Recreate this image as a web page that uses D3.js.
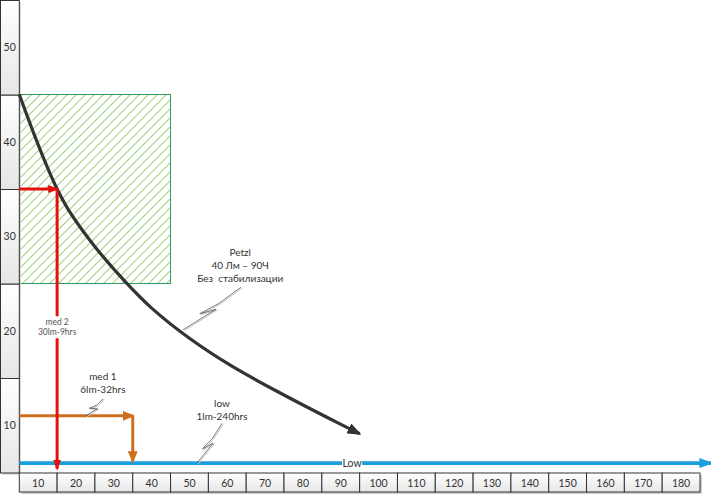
<!DOCTYPE html>
<html>
<head>
<meta charset="utf-8">
<script src="https://cdn.jsdelivr.net/npm/d3@7"></script>
<style>
  body { margin: 0; background: #fff; }
  text { font-family: Lato, 'Noto Sans', sans-serif; fill: #333; white-space: pre; }
</style>
</head>
<body>
<svg id="chart" width="711" height="495"></svg>
<script>
// axis cells
const hourTicks = [10, 20, 30, 40, 50, 60, 70, 80, 90, 100, 110, 120, 130, 140, 150, 160, 170, 180];
const lumenTicks = [10, 20, 30, 40, 50];

// Petzl, no regulation: lumens over hours
const petzlHours = [0, 4, 7, 10, 13, 20, 28, 35, 45, 56, 70, 84, 90];
const petzlLumens = [40, 35.7, 32.7, 30, 27.8, 23.9, 20.2, 17.4, 14.2, 11.3, 8.2, 5.3, 4.1];

// modes: [start hour, end hour], [level lumens, floor lumens]
const med2Hours = [0, 10];
const med2Lumens = [30, 0];
const med1Hours = [0, 30];
const med1Lumens = [6, 1.2];
const lowHours = [0, 183];
const lowLumens = [1, 1];

// zone of the hatched box
const zoneHours = [0, 40];
const zoneLumens = [20, 40];

// labels: text, anchor hour/lumen, callout from -> to
const notes = [
  { lines: ['Petzl', '40 Лм – 90Ч', 'Без  стабилизации'], h: 58.4, v: 22.9, from: [58.6, 19.6], to: [43.3, 15.1] },
  { lines: ['med 1', '6lm-32hrs'], h: 22.1, v: 9.8, from: [22.2, 7.8], to: [17.6, 6.0] },
  { lines: ['low', '1lm-240hrs'], h: 53.6, v: 6.9, from: [53.6, 5.2], to: [47, 1] }
];

const svg = d3.select('#chart');
const x = d3.scaleLinear().domain([0, 180]).range([19.3, 700]);
const y = d3.scaleLinear().domain([0, 50]).range([472.5, 0]);

const defs = svg.append('defs');
const grad = defs.append('linearGradient').attr('id', 'cell').attr('x1', 0).attr('y1', 0).attr('x2', 0).attr('y2', 1);
grad.append('stop').attr('offset', '0%').attr('stop-color', '#ffffff');
grad.append('stop').attr('offset', '100%').attr('stop-color', '#e6e6e6');

const hatch = defs.append('pattern').attr('id', 'hatch').attr('patternUnits', 'userSpaceOnUse')
  .attr('width', 9).attr('height', 9);
hatch.append('path').attr('d', 'M0,9 L9,0 M-2,2 L2,-2 M7,11 L11,7')
  .attr('stroke', '#9fd47f').attr('stroke-width', 1.1).attr('fill', 'none');

function marker(id, color, len, wid) {
  defs.append('marker').attr('id', id).attr('markerUnits', 'userSpaceOnUse')
    .attr('viewBox', `0 0 ${len} ${wid}`).attr('markerWidth', len).attr('markerHeight', wid)
    .attr('refX', len - 2).attr('refY', wid / 2).attr('orient', 'auto')
    .append('path').attr('d', `M0,0 L${len},${wid / 2} L0,${wid} Z`).attr('fill', color);
}
marker('headBlack', '#333333', 14, 11);
marker('headRed', '#e3120f', 11, 8);
marker('headOrange', '#cf6f1e', 12, 10);
marker('headBlue', '#1ba0dd', 14, 10);

// hatched zone
svg.append('rect')
  .attr('x', x(zoneHours[0])).attr('y', y(zoneLumens[1]))
  .attr('width', x(zoneHours[1]) - x(zoneHours[0])).attr('height', y(zoneLumens[0]) - y(zoneLumens[1]))
  .attr('fill', 'url(#hatch)').attr('stroke', '#2f9a5e').attr('stroke-width', 1);

// left column of cells
const left = svg.append('g');
left.selectAll('.shadow').data(lumenTicks).enter().append('rect')
  .attr('x', 2).attr('y', d => y(d) + 2).attr('width', x(0) - 0.5)
  .attr('height', d => y(d - 10) - y(d)).attr('fill', '#cfcfcf');
left.selectAll('.cell').data(lumenTicks).enter().append('rect')
  .attr('x', 0.5).attr('y', d => y(d) + 0.5).attr('width', x(0) - 0.5)
  .attr('height', d => y(d - 10) - y(d)).attr('fill', 'url(#cell)').attr('stroke', '#333').attr('stroke-width', 1);
left.selectAll('text').data(lumenTicks).enter().append('text')
  .attr('x', x(0) / 2).attr('y', d => (y(d) + y(d - 10)) / 2 + 4)
  .attr('text-anchor', 'middle').attr('font-size', '10.5px').text(d => d);

// bottom row of cells
const bottom = svg.append('g');
const rowTop = y(0) + 0.5, rowH = 19;
bottom.append('rect').attr('x', x(0) + 2).attr('y', rowTop + 2).attr('width', x(180) - x(0)).attr('height', rowH).attr('fill', '#cfcfcf');
bottom.selectAll('.cell').data(hourTicks).enter().append('rect')
  .attr('x', d => x(d - 10)).attr('y', rowTop).attr('width', d => x(d) - x(d - 10)).attr('height', rowH)
  .attr('fill', 'url(#cell)').attr('stroke', '#333').attr('stroke-width', 1);
bottom.selectAll('text').data(hourTicks).enter().append('text')
  .attr('x', d => (x(d) + x(d - 10)) / 2).attr('y', rowTop + 13.5)
  .attr('text-anchor', 'middle').attr('font-size', '10.5px').text(d => d);

const line = d3.line().x(d => x(d[0])).y(d => y(d[1]));

// low mode
svg.append('path').attr('d', line([[lowHours[0], lowLumens[0]], [lowHours[1], lowLumens[1]]]))
  .attr('stroke', '#1ba0dd').attr('stroke-width', 3.8).attr('fill', 'none').attr('marker-end', 'url(#headBlue)');

// Petzl curve
svg.append('path')
  .attr('d', d3.line().curve(d3.curveCatmullRom.alpha(0.5)).x(d => x(d[0])).y(d => y(d[1]))(d3.zip(petzlHours, petzlLumens)))
  .attr('stroke', '#333').attr('stroke-width', 3.2).attr('fill', 'none').attr('marker-end', 'url(#headBlack)');

// med 1
svg.append('path').attr('d', line([[med1Hours[0], med1Lumens[0]], [med1Hours[1], med1Lumens[0]]]))
  .attr('stroke', '#cf6f1e').attr('stroke-width', 3).attr('fill', 'none').attr('marker-end', 'url(#headOrange)');
svg.append('path').attr('d', line([[med1Hours[1], med1Lumens[0]], [med1Hours[1], med1Lumens[1]]]))
  .attr('stroke', '#cf6f1e').attr('stroke-width', 3).attr('fill', 'none').attr('marker-end', 'url(#headOrange)');

// med 2
svg.append('path').attr('d', line([[med2Hours[0], med2Lumens[0]], [med2Hours[1], med2Lumens[0]]]))
  .attr('stroke', '#e3120f').attr('stroke-width', 3).attr('fill', 'none').attr('marker-end', 'url(#headRed)');
svg.append('path').attr('d', line([[med2Hours[1], med2Lumens[0]], [med2Hours[1], 0.4]]))
  .attr('stroke', '#e3120f').attr('stroke-width', 3).attr('fill', 'none').attr('marker-end', 'url(#headRed)');

// med 2 label sits on the red line
const m2x = x(med2Hours[1]), m2y = y(15.9);
svg.append('rect').attr('x', m2x - 16).attr('y', m2y - 6).attr('width', 32).attr('height', 22).attr('fill', '#fff');
const m2 = svg.append('text').attr('x', m2x).attr('y', m2y + 3).attr('text-anchor', 'middle')
  .attr('font-size', '8.5px').style('fill', '#555');
m2.append('tspan').attr('x', m2x).text('med 2');
m2.append('tspan').attr('x', m2x).attr('dy', 9.5).text('30lm-9hrs');

// "Low" on the blue line
const lowX = x(88), lowY = y(lowLumens[0]);
svg.append('rect').attr('x', lowX - 10).attr('y', lowY - 5).attr('width', 20).attr('height', 10).attr('fill', '#fff');
svg.append('text').attr('x', lowX).attr('y', lowY + 4).attr('text-anchor', 'middle').attr('font-size', '10.5px').text('Low');

// callouts with a zigzag
function zig(a, b) {
  const dx = b[0] - a[0], dy = b[1] - a[1];
  const len = Math.hypot(dx, dy), nx = -dy / len, ny = dx / len;
  const at = (t, o) => [a[0] + dx * t + nx * o, a[1] + dy * t + ny * o];
  return [a, at(0.38, 0), at(0.68, 3), at(0.46, -3), b];
}
notes.forEach(n => {
  const pts = zig([x(n.from[0]), y(n.from[1])], [x(n.to[0]), y(n.to[1])]);
  svg.append('path').attr('d', d3.line()(pts.map(p => [p[0] + 1.2, p[1] + 0.8])))
    .attr('stroke', '#c8c8c8').attr('stroke-width', 1).attr('fill', 'none');
  svg.append('path').attr('d', d3.line()(pts))
    .attr('stroke', '#555').attr('stroke-width', 0.8).attr('fill', 'none');
  const t = svg.append('text').attr('x', x(n.h)).attr('y', y(n.v)).attr('text-anchor', 'middle').attr('font-size', '10px');
  n.lines.forEach((s, i) => t.append('tspan').attr('x', x(n.h)).attr('dy', i ? 12.8 : 0).text(s));
});
</script>
</body>
</html>
